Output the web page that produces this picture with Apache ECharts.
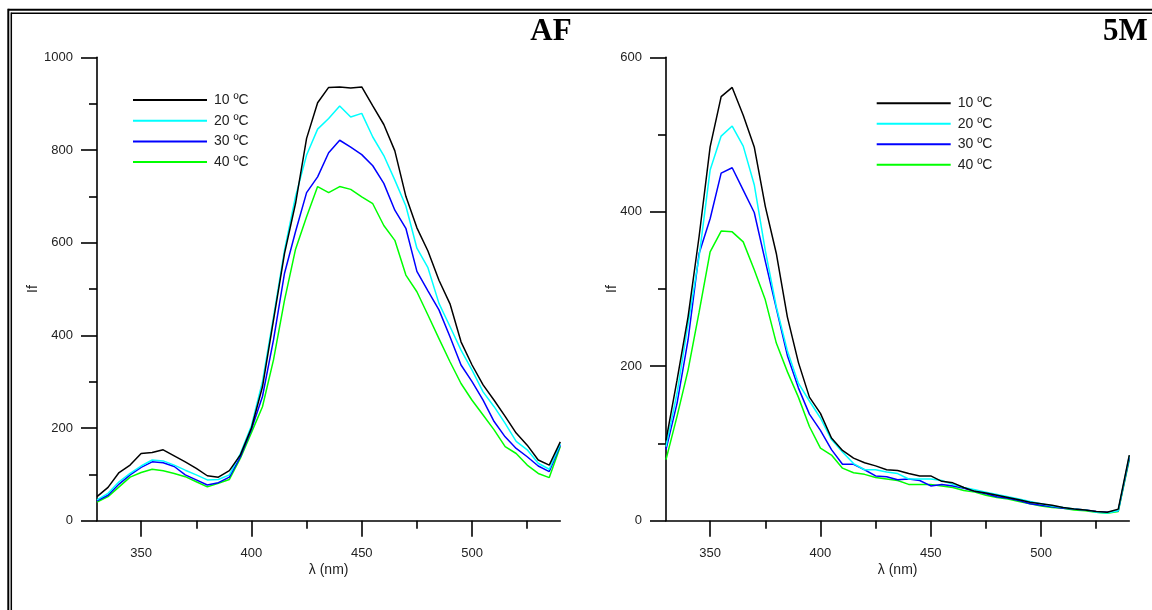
<!DOCTYPE html>
<html>
<head>
<meta charset="utf-8">
<script src="https://cdn.jsdelivr.net/npm/echarts@6/dist/echarts.min.js"></script>
<style>
html,body{margin:0;padding:0;background:#fff;}
#chart{width:1152px;height:610px;}
</style>
</head>
<body>
<div id="chart"></div>
<script>
// wavelengths (nm)
var wavelengths = [330,335,340,345,350,355,360,365,370,375,380,385,390,395,400,405,410,415,420,425,430,435,440,445,450,455,460,465,470,475,480,485,490,495,500,505,510,515,520,525,530,535,540];

var seriesNames = ['10 ºC', '20 ºC', '30 ºC', '40 ºC'];
var seriesColors = ['#000000', '#00ffff', '#0000ff', '#00ff00'];

// AF panel
var af10 = [52,72,104,120,145,147,153,140,127,113,97,94,108,142,200,289,433,577,685,825,902,935,936,934,936,895,855,798,700,632,582,519,468,386,336,293,260,225,189,163,131,120,170];
var af20 = [45,59,84,102,118,131,129,120,109,99,88,89,99,145,205,300,440,584,700,789,845,868,895,871,879,828,788,735,679,588,546,469,419,368,325,278,246,210,171,153,124,111,166];
var af30 = [43,55,79,99,115,127,125,117,99,88,77,82,94,138,197,268,390,534,624,708,742,794,821,806,790,766,728,670,631,538,496,455,397,336,300,260,214,181,156,138,118,106,163];
var af40 = [40,52,73,94,104,111,108,102,95,84,73,81,89,135,190,246,347,476,586,656,721,708,721,715,699,684,637,605,530,494,444,393,343,296,260,228,196,160,145,120,102,93,160];

// 5M panel
var m10 = [104,182,264,368,484,549,561,525,484,407,346,264,205,160,139,107,91,81,75,71,66,65,61,58,58,51,49,43,38,36,33,30,27,24,22,20,17,15,14,12,11,15,85];
var m20 = [96,165,255,342,454,498,511,485,435,350,277,220,178,155,133,105,89,74,66,66,63,61,54,54,54,52,47,43,40,37,34,31,28,25,22,19,17,15,14,11,10,13,84];
var m30 = [92,152,234,346,391,450,457,428,399,336,275,214,172,138,117,92,73,73,66,58,57,53,54,52,45,47,45,42,38,35,31,29,26,22,20,18,16,15,14,12,11,13,81];
var m40 = [79,135,195,270,348,375,374,361,325,286,230,193,160,122,94,85,68,62,60,56,54,52,47,47,47,45,43,39,37,33,30,28,25,22,19,17,16,14,13,11,9.5,12,79];

var xMajorTicks = [350,400,450,500];
var xMinorTicks = [375,425,475,525];
var panelTitles = ['AF', '5M'];
var yAxisTitle = 'If';
var xAxisTitle = 'λ (nm)';

function pairs(vals){
  return wavelengths.map(function(w,i){ return [w, vals[i]]; });
}

var panels = [[af10, af20, af30, af40], [m10, m20, m30, m40]];

var axisColor = '#000';
var labelColor = '#222';
var font = 'Liberation Sans';

function xMajor(grid){
  return {
    type:'value', gridIndex:grid, min:330, max:540, position:'bottom',
    axisLine:{show:true, onZero:false, lineStyle:{color:axisColor, width:1.6}},
    axisTick:{show:true, customValues:xMajorTicks, length:16, lineStyle:{color:axisColor, width:1.6}},
    axisLabel:{show:true, customValues:xMajorTicks, margin:26, fontSize:13, fontFamily:font, color:labelColor},
    splitLine:{show:false},
    name:xAxisTitle, nameLocation:'middle', nameGap:42, nameMoveOverlap:false,
    nameTextStyle:{fontSize:14, fontFamily:font, color:labelColor}
  };
}
function xMinor(grid){
  return {
    type:'value', gridIndex:grid, min:330, max:540, position:'bottom',
    axisLine:{show:false},
    axisTick:{show:true, customValues:xMinorTicks, length:8, lineStyle:{color:axisColor, width:1.6}},
    axisLabel:{show:false},
    splitLine:{show:false}
  };
}
function yAx(grid, max, gap){
  return {
    type:'value', gridIndex:grid, min:0, max:max, interval:200,
    axisLine:{show:true, onZero:false, lineStyle:{color:axisColor, width:1.6}},
    axisTick:{show:true, length:16, lineStyle:{color:axisColor, width:1.6}},
    minorTick:{show:true, splitNumber:2, length:8, lineStyle:{color:axisColor, width:1.6}},
    axisLabel:{margin:24, fontSize:13, fontFamily:font, color:labelColor, formatter:function(v){ return String(v); }},
    splitLine:{show:false}, minorSplitLine:{show:false},
    name:yAxisTitle, nameLocation:'middle', nameGap:gap, nameMoveOverlap:false,
    nameTextStyle:{fontSize:14, fontFamily:font, color:labelColor}
  };
}

var series = [];
panels.forEach(function(p, pi){
  p.forEach(function(vals, si){
    series.push({
      type:'line', name:seriesNames[si], xAxisIndex:pi*2, yAxisIndex:pi,
      data:pairs(vals), symbol:'none', showSymbol:false,
      lineStyle:{color:seriesColors[si], width:1.5}, itemStyle:{color:seriesColors[si]},
      z: 10 - si
    });
  });
});

function legend(left, top, gap){
  return {
    data:seriesNames, orient:'vertical', left:left, top:top, padding:0,
    itemWidth:74, itemHeight:14, itemGap:gap, selectedMode:false,
    itemStyle:{opacity:0, borderWidth:0},
    textStyle:{fontSize:14, fontFamily:font, color:labelColor, padding:[0,0,0,2]}
  };
}

function hline(x1,y1,x2,y2,w){
  return {type:'line', silent:true, shape:{x1:x1,y1:y1,x2:x2,y2:y2}, style:{stroke:'#000', lineWidth:w}};
}

var option = {
  animation:false,
  backgroundColor:'#fff',
  grid:[
    {left:97, top:57.3, width:463.3, height:463.4},
    {left:666, top:57.3, width:463.3, height:463.4}
  ],
  xAxis:[xMajor(0), xMinor(0), xMajor(1), xMinor(1)],
  yAxis:[yAx(0,1000,57), yAx(1,600,47)],
  legend:[legend(132, 93, 6.7), legend(875.7, 96.3, 6.5)],
  series:series,
  graphic:[
    hline(8.3, 9.8, 1160, 9.8, 2),
    hline(8.3, 8.8, 8.3, 620, 2),
    hline(11.3, 13.3, 1160, 13.3, 1.5),
    hline(11.3, 12.6, 11.3, 620, 1.5),
    {type:'text', x:551, y:32, style:{text:panelTitles[0], fontSize:31, fontWeight:'bold', fontFamily:'Liberation Serif', fill:'#000', align:'center', verticalAlign:'middle'}},
    {type:'text', x:1125.5, y:32, style:{text:panelTitles[1], fontSize:31, fontWeight:'bold', fontFamily:'Liberation Serif', fill:'#000', align:'center', verticalAlign:'middle'}}
  ]
};

var chart = echarts.init(document.getElementById('chart'), null, {renderer:'canvas'});
chart.setOption(option);
</script>
</body>
</html>
